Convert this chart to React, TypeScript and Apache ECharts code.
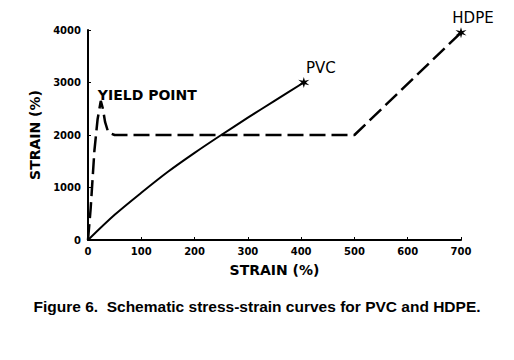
import React, { useEffect, useRef } from "react";
import * as echarts from "echarts";

// Data
const xTicks = [0, 100, 200, 300, 400, 500, 600, 700];
const yTicks = [0, 1000, 2000, 3000, 4000];

const pvcStrain = [0, 50, 100, 150, 200, 250, 300, 350, 405];
const pvcStress = [0, 480, 900, 1300, 1660, 2000, 2330, 2650, 3000];

const hdpeStrain = [0, 5, 12, 18, 24, 28, 32, 38, 50, 500, 700];
const hdpeStress = [0, 600, 1700, 2300, 2650, 2500, 2250, 2050, 2000, 2000, 3950];

const yieldIndex = 4;
const caption = "Figure 6.  Schematic stress-strain curves for PVC and HDPE.";

function starPath(): string {
  const pts: string[] = [];
  const n = 6;
  for (let i = 0; i < n * 2; i++) {
    const r = i % 2 === 0 ? 10 : 3.5;
    const a = (Math.PI * i) / n - Math.PI / 2;
    pts.push(`${(10 + r * Math.cos(a)).toFixed(2)} ${(10 + r * Math.sin(a)).toFixed(2)}`);
  }
  return "path://M" + pts.join(" L") + " Z";
}

export default function App() {
  const ref = useRef<HTMLDivElement>(null);
  useEffect(() => {
    document.body.style.margin = "0";
    if (!ref.current) return;
    const chart = echarts.init(ref.current, null, { renderer: "svg" });
    const star = starPath();
    const tickFont = {
      fontFamily: "DejaVu Sans",
      fontWeight: "bold" as const,
      fontSize: 10,
      color: "#000",
      formatter: (v: number) => String(v),
    };
    const pvcData = pvcStrain.map((x, i) => {
      const last = i === pvcStrain.length - 1;
      return last
        ? {
            value: [x, pvcStress[i]],
            symbol: star,
            symbolSize: 11,
            label: {
              show: true,
              formatter: "PVC",
              position: "top",
              offset: [17, 3],
              fontFamily: "DejaVu Sans",
              fontSize: 15,
              color: "#000",
            },
          }
        : { value: [x, pvcStress[i]], symbol: "none" };
    });
    const hdpeData = hdpeStrain.map((x, i) => {
      const last = i === hdpeStrain.length - 1;
      if (last) {
        return {
          value: [x, hdpeStress[i]],
          symbol: star,
          symbolSize: 11,
          label: {
            show: true,
            formatter: "HDPE",
            position: "top",
            offset: [12, 3],
            fontFamily: "DejaVu Sans",
            fontSize: 15,
            color: "#000",
          },
        };
      }
      if (i === yieldIndex) {
        return {
          value: [x, hdpeStress[i]],
          symbol: "circle",
          symbolSize: 0.1,
          label: {
            show: true,
            formatter: "YIELD POINT",
            position: "right",
            offset: [-8, -6],
            fontFamily: "DejaVu Sans",
            fontWeight: "bold",
            fontSize: 14,
            color: "#000",
          },
        };
      }
      return { value: [x, hdpeStress[i]], symbol: "none" };
    });

    chart.setOption({
      animation: false,
      backgroundColor: "#fff",
      grid: { left: 88, right: 53, top: 30, bottom: 120 },
      title: {
        text: caption,
        left: "center",
        top: 293,
        textStyle: {
          fontFamily: "Liberation Sans",
          fontWeight: "bold",
          fontSize: 15.5,
          color: "#000",
        },
      },
      xAxis: {
        type: "value",
        min: xTicks[0],
        max: xTicks[xTicks.length - 1],
        interval: 100,
        name: "STRAIN (%)",
        nameLocation: "middle",
        nameGap: 23,
        nameTextStyle: {
          fontFamily: "DejaVu Sans",
          fontWeight: "bold",
          fontSize: 14,
          color: "#000",
        },
        axisLine: { lineStyle: { color: "#000", width: 2 } },
        axisTick: { inside: true, length: 3, lineStyle: { color: "#000" } },
        axisLabel: { ...tickFont, margin: 6 },
        splitLine: { show: false },
      },
      yAxis: {
        type: "value",
        min: yTicks[0],
        max: yTicks[yTicks.length - 1],
        interval: 1000,
        name: "STRAIN (%)",
        nameLocation: "middle",
        nameGap: 44,
        nameTextStyle: {
          fontFamily: "DejaVu Sans",
          fontWeight: "bold",
          fontSize: 14,
          color: "#000",
        },
        axisLine: { show: true, lineStyle: { color: "#000", width: 2 } },
        axisTick: { show: true, inside: true, length: 3, lineStyle: { color: "#000" } },
        axisLabel: { ...tickFont, margin: 7 },
        splitLine: { show: false },
      },
      series: [
        {
          type: "line",
          name: "PVC",
          data: pvcData,
          smooth: 0.3,
          clip: false,
          lineStyle: { color: "#000", width: 2 },
          itemStyle: { color: "#000" },
        },
        {
          type: "line",
          name: "HDPE",
          data: hdpeData,
          clip: false,
          lineStyle: { color: "#000", width: 2.5, type: [16, 6] },
          itemStyle: { color: "#000" },
        },
      ],
    });
    return () => chart.dispose();
  }, []);
  return <div ref={ref} style={{ width: 514, height: 360 }} />;
}
